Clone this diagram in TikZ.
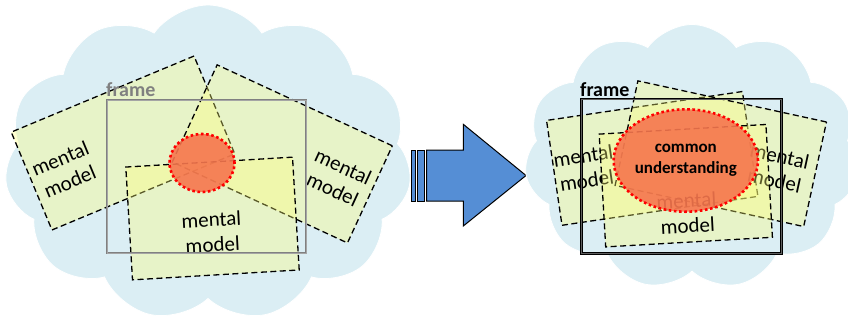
\documentclass[tikz,border=0pt]{standalone}
\usepackage{fontspec}
\setmainfont{Carlito}
\usetikzlibrary{shapes.symbols,shapes.geometric}

\definecolor{skyblue}{RGB}{219,238,244}
\definecolor{paleyellow}{RGB}{255,255,120}
\definecolor{agreefill}{RGB}{246,118,78}
\definecolor{arrowblue}{RGB}{85,142,213}
\definecolor{framegray}{RGB}{128,128,128}
\definecolor{framelight}{RGB}{165,165,165}
\definecolor{framedark}{RGB}{95,95,95}

\tikzset{
  sky/.style={cloud, cloud puffs=11, cloud puff arc=110, fill=skyblue, draw=white, line width=0.8pt, inner sep=0pt},
  mmbox/.style={rectangle, draw=black, line width=1.3pt, dash pattern=on 6pt off 3.5pt, fill=paleyellow, fill opacity=0.35, draw opacity=1, inner sep=0pt},
  mmtext/.style={font=\fontsize{21}{25}\selectfont, align=center, inner sep=0pt},
  agree/.style={ellipse, draw=red, line width=2.6pt, dash pattern=on 2.6pt off 2.6pt, fill=agreefill, fill opacity=0.9, text opacity=1, inner sep=0pt},
  framebox/.style={rectangle, line width=1.1pt, double distance=0.6pt, inner sep=0pt},
  framelabel/.style={font=\fontsize{20}{24}\selectfont\bfseries, inner sep=0pt, anchor=base west},
  arrowpart/.style={fill=arrowblue, draw=black, line width=1pt, line join=miter}
}

\begin{document}
\begin{tikzpicture}[x=1pt,y=-1pt]
  \useasboundingbox (0,0) rectangle (848,322);

  % before
  \node[sky, minimum width=407pt, minimum height=316pt] (cloudL) at (208,163) {};
  \node[mmbox, minimum width=198pt, minimum height=106pt, rotate=22.6] (mmL1) at (123,143) {};
  \node[mmtext, rotate=22.6] (txtL1) at (65,170) {mental\\model};
  \node[mmbox, minimum width=193pt, minimum height=107pt, rotate=-24.8] (mmL2) at (282.3,153.9) {};
  \node[mmtext, rotate=-24.8] (txtL2) at (338,178) {mental\\model};
  \node[mmbox, minimum width=167pt, minimum height=113pt, rotate=3.4] (mmL3) at (212.5,218.5) {};
  \node[mmtext, rotate=3] (txtL3) at (212,232) {mental\\model};
  \node[agree, minimum width=65pt, minimum height=58pt] (agreeL) at (202,163) {};
  \node[framebox, draw=framegray, double=framelight, minimum width=199pt, minimum height=153pt] (frameL) at (206.5,176.5) {};
  \node[framelabel, text=framegray] (frameLtxt) at (106,96) {frame};

  % arrow
  \draw[arrowpart] (411.7,150) rectangle (415.7,201);
  \draw[arrowpart] (417.7,150) rectangle (424.3,201);
  \draw[arrowpart] (426.7,150) -- (463.3,150) -- (463.3,124.3) -- (526,175.5)
    -- (463.3,226) -- (463.3,201) -- (426.7,201) -- cycle;

  % after
  \node[sky, minimum width=335pt, minimum height=265pt] (cloudR) at (692,157) {};
  \node[mmbox, minimum width=198pt, minimum height=106pt, rotate=8.4] (mmR1) at (652.2,158.4) {};
  \node[mmtext, rotate=8.4] (txtR1) at (585,168) {mental\\model};
  \node[mmbox, minimum width=193pt, minimum height=107pt, rotate=-12.3] (mmR2) at (720.8,153.7) {};
  \node[mmtext, rotate=-12.3] (txtR2) at (777,168) {mental\\model};
  \node[mmbox, minimum width=167pt, minimum height=113pt, rotate=3.3] (mmR3) at (685.8,185.7) {};
  \node[mmtext, rotate=3] (txtR3) at (687,213) {mental\\model};
  \node[agree, minimum width=141.6pt, minimum height=102.4pt,
    font=\fontsize{17}{21}\selectfont\bfseries, align=center] (agreeR) at (685.8,160.5) {common\\understanding};
  \node[framebox, draw=black, double=framedark, minimum width=200pt, minimum height=154.3pt] (frameR) at (681.7,176.2) {};
  \node[framelabel, text=black] (frameRtxt) at (580,96) {frame};
\end{tikzpicture}
\end{document}
